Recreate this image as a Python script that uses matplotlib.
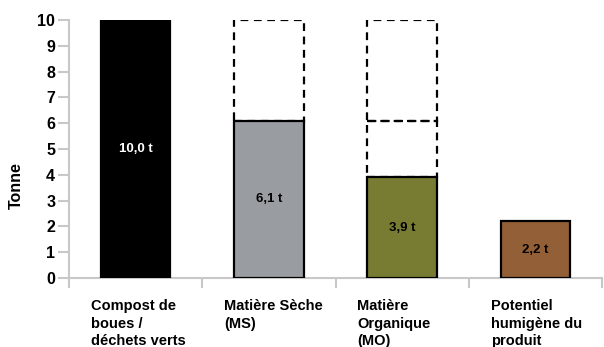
import numpy as np
import matplotlib.pyplot as plt

plt.rcParams['font.family'] = ['Liberation Sans', 'DejaVu Sans']

categories = ["Compost de\nboues /\ndéchets verts", "Matière Sèche\n(MS)",
              "Matière\nOrganique\n(MO)", "Potentiel\nhumigène du\nproduit"]
values = [10.0, 6.1, 3.9, 2.2]
value_labels = ["10,0 t", "6,1 t", "3,9 t", "2,2 t"]
colors = ["#000000", "#999ca0", "#787c33", "#935f36"]
label_colors = ["white", "black", "black", "black"]

# dashed "lost" parts: (category index, bottom, top)
ghost_parts = [(1, 6.1, 10.0), (2, 3.9, 6.1), (2, 6.1, 10.0)]

fig = plt.figure(figsize=(6.04, 3.47), dpi=100)
ax = fig.add_axes([69/604, 1-278/347, 533/604, 258/347])

x = np.arange(len(categories))
w = 0.52
grey = "#c8c8c8"

for xi, b, t in ghost_parts:
    ax.bar(xi, t - b, bottom=b, width=w, fill=False, edgecolor="black",
           linestyle=(0, (3.5, 2.5)), linewidth=1.6, zorder=2)

ax.bar(x, values, width=w, color=colors, edgecolor="black", linewidth=1.6, zorder=3)

for xi, v, lab, c in zip(x, values, value_labels, label_colors):
    ax.text(xi, v / 2, lab, ha="center", va="center", color=c,
            fontsize=9.5, fontweight="bold", zorder=4)

ax.set_xlim(-0.5, 3.5)
ax.set_ylim(0, 10)
ax.set_yticks(range(0, 11))
ax.tick_params(axis="y", length=8, width=1.5, color=grey, labelsize=11.5, pad=2)
for t in ax.get_yticklabels():
    t.set_fontweight("bold")

ax.set_xticks([])
ax.set_xticks(np.arange(-0.5, 4.0, 1.0), minor=True)
ax.tick_params(axis="x", which="minor", length=7, width=1.5, color=grey)

for xi, lab in zip(x, categories):
    ax.text(xi - 0.335, -0.083, lab, transform=ax.get_xaxis_transform(),
            ha="left", va="top", fontsize=10.5, fontweight="bold", linespacing=1.3)

ax.set_ylabel("Tonne", fontsize=11.5, fontweight="bold")
ax.yaxis.set_label_coords(-0.085, 0.36)

for s in ["top", "right"]:
    ax.spines[s].set_visible(False)
for s in ["left", "bottom"]:
    ax.spines[s].set_color(grey)
    ax.spines[s].set_linewidth(1.5)

fig.savefig("out.png", dpi=100)
